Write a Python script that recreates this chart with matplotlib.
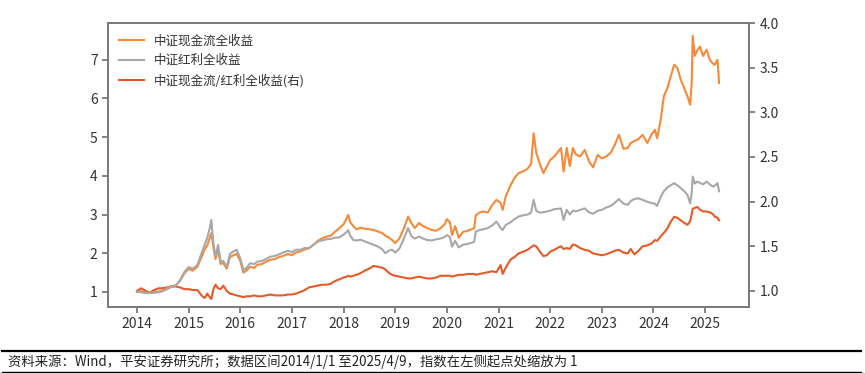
import matplotlib
matplotlib.use("Agg")
import matplotlib.pyplot as plt

plt.rcParams["font.family"] = ["Noto Sans CJK SC", "DejaVu Sans"]

# fractional year positions of the sampled points
YEARS = [
    2014.00, 2014.08, 2014.17, 2014.25, 2014.33, 2014.42, 2014.50, 2014.58, 2014.67, 2014.75, 2014.83, 2014.92,
    2015.00, 2015.08, 2015.17, 2015.25, 2015.31, 2015.36, 2015.41, 2015.44, 2015.48, 2015.52, 2015.57, 2015.62,
    2015.67, 2015.74, 2015.80, 2015.87, 2015.93,
    2016.00, 2016.06, 2016.12, 2016.19, 2016.27, 2016.33, 2016.42, 2016.50, 2016.58, 2016.67, 2016.75, 2016.83, 2016.92,
    2017.00, 2017.08, 2017.17, 2017.25, 2017.33, 2017.42, 2017.50, 2017.58, 2017.67, 2017.75, 2017.83, 2017.92,
    2018.00, 2018.06, 2018.09, 2018.13, 2018.19, 2018.25, 2018.33, 2018.42, 2018.50, 2018.58, 2018.67, 2018.75,
    2018.81, 2018.88, 2018.94,
    2019.00, 2019.08, 2019.17, 2019.25, 2019.31, 2019.38, 2019.46, 2019.54, 2019.62, 2019.71, 2019.79, 2019.88, 2019.96,
    2020.00, 2020.06, 2020.10, 2020.16, 2020.23, 2020.31, 2020.40, 2020.48, 2020.53, 2020.56, 2020.63, 2020.71,
    2020.79, 2020.88, 2020.96,
    2021.04, 2021.08, 2021.14, 2021.23, 2021.31, 2021.39, 2021.48, 2021.56, 2021.63, 2021.68, 2021.73, 2021.80,
    2021.87, 2021.94,
    2022.00, 2022.08, 2022.17, 2022.21, 2022.26, 2022.32, 2022.38, 2022.44, 2022.50, 2022.58, 2022.67, 2022.75,
    2022.83, 2022.92,
    2023.00, 2023.08, 2023.17, 2023.25, 2023.33, 2023.42, 2023.50, 2023.56, 2023.63, 2023.71, 2023.79, 2023.88, 2023.96,
    2024.03, 2024.07, 2024.14, 2024.20, 2024.27, 2024.33, 2024.40, 2024.46, 2024.53, 2024.60, 2024.66, 2024.71,
    2024.74, 2024.76, 2024.80, 2024.85, 2024.90, 2024.96,
    2025.03, 2025.09, 2025.15, 2025.19, 2025.24, 2025.27,
]

# 中证现金流全收益 (left axis)
CASHFLOW = [
    1.00, 1.02, 0.98, 0.98, 0.99, 1.01, 1.04, 1.10, 1.15, 1.17, 1.28, 1.48,
    1.60, 1.55, 1.65, 1.90, 2.10, 2.20, 2.40, 2.52, 2.15, 1.85, 2.10, 1.72,
    1.75, 1.60, 1.90, 1.95, 1.98,
    1.80, 1.50, 1.55, 1.65, 1.62, 1.70, 1.72, 1.78, 1.83, 1.85, 1.90, 1.93, 1.98,
    1.95, 2.02, 2.05, 2.10, 2.13, 2.22, 2.32, 2.38, 2.43, 2.45, 2.55, 2.65,
    2.75, 2.90, 2.99, 2.80, 2.70, 2.62, 2.66, 2.63, 2.62, 2.60, 2.56, 2.52,
    2.45, 2.40, 2.34,
    2.26, 2.38, 2.65, 2.95, 2.78, 2.65, 2.78, 2.70, 2.65, 2.60, 2.58, 2.65, 2.75,
    2.88, 2.80, 2.47, 2.70, 2.40, 2.55, 2.58, 2.62, 2.65, 2.98, 3.05, 3.08,
    3.05, 3.25, 3.38,
    3.30, 3.12, 3.47, 3.75, 3.95, 4.07, 4.12, 4.18, 4.30, 5.10, 4.60, 4.30,
    4.07, 4.25,
    4.41, 4.50, 4.65, 4.72, 4.11, 4.72, 4.25, 4.72, 4.55, 4.50, 4.67, 4.38,
    4.22, 4.54,
    4.45, 4.50, 4.59, 4.80, 5.06, 4.70, 4.72, 4.85, 4.90, 4.95, 5.06, 4.85, 5.06,
    5.19, 4.97, 5.45, 6.05, 6.27, 6.55, 6.87, 6.80, 6.48, 6.25, 6.05, 5.84,
    6.40, 7.62, 7.10, 7.25, 7.34, 7.10,
    7.26, 7.00, 6.90, 6.87, 7.00, 6.40,
]

# 中证红利全收益 (left axis)
DIVIDEND = [
    1.00, 0.99, 0.97, 0.97, 0.98, 0.99, 1.02, 1.07, 1.13, 1.16, 1.30, 1.52,
    1.64, 1.60, 1.70, 2.00, 2.22, 2.39, 2.65, 2.86, 2.26, 1.91, 2.22, 1.78,
    1.80, 1.65, 1.98, 2.05, 2.09,
    1.87, 1.57, 1.62, 1.74, 1.72, 1.78, 1.80, 1.85, 1.91, 1.93, 1.97, 2.02, 2.06,
    2.03, 2.09, 2.09, 2.14, 2.13, 2.22, 2.30, 2.33, 2.36, 2.37, 2.40, 2.41,
    2.48, 2.55, 2.60, 2.45, 2.34, 2.33, 2.35, 2.30, 2.26, 2.22, 2.17, 2.10,
    2.00, 2.07, 2.09,
    2.02, 2.12, 2.38, 2.65, 2.45, 2.38, 2.43, 2.38, 2.34, 2.33, 2.36, 2.38, 2.42,
    2.47, 2.42, 2.17, 2.32, 2.15, 2.22, 2.24, 2.27, 2.30, 2.56, 2.60, 2.62,
    2.65, 2.72, 2.82,
    2.65, 2.60, 2.73, 2.80, 2.88, 2.95, 2.98, 3.00, 3.05, 3.38, 3.10, 3.05,
    3.06, 3.08,
    3.10, 3.14, 3.15, 3.16, 2.86, 3.12, 3.00, 3.10, 3.08, 3.12, 3.16, 3.06,
    3.02, 3.10,
    3.12, 3.18, 3.22, 3.30, 3.40, 3.28, 3.25, 3.35, 3.40, 3.42, 3.38, 3.33, 3.30,
    3.28, 3.22, 3.45, 3.60, 3.70, 3.75, 3.81, 3.76, 3.68, 3.60, 3.50, 3.29,
    3.55, 3.98, 3.80, 3.85, 3.82, 3.78,
    3.85, 3.78, 3.72, 3.75, 3.81, 3.60,
]

# 中证现金流/红利全收益 (right axis)
RATIO = [
    1.00, 1.03, 1.00, 0.98, 1.01, 1.03, 1.03, 1.04, 1.05, 1.05, 1.04, 1.02,
    1.02, 1.01, 1.01, 0.95, 0.92, 0.97, 0.93, 0.91, 1.02, 1.07, 1.03, 1.02,
    1.06, 1.00, 0.97, 0.96, 0.95,
    0.94, 0.93, 0.94, 0.94, 0.95, 0.94, 0.94, 0.95, 0.96, 0.95, 0.95, 0.95, 0.96,
    0.96, 0.97, 0.99, 1.01, 1.04, 1.05, 1.06, 1.07, 1.07, 1.08, 1.11, 1.13,
    1.15, 1.16, 1.17, 1.16, 1.17, 1.18, 1.20, 1.23, 1.25, 1.28, 1.27, 1.26,
    1.24, 1.20, 1.18,
    1.17, 1.16, 1.15, 1.14, 1.14, 1.15, 1.16, 1.15, 1.14, 1.14, 1.15, 1.17, 1.17,
    1.17, 1.17, 1.16, 1.17, 1.18, 1.18, 1.19, 1.19, 1.19, 1.18, 1.19, 1.20,
    1.21, 1.22, 1.21,
    1.29, 1.19, 1.26, 1.35, 1.38, 1.42, 1.44, 1.46, 1.49, 1.51, 1.50, 1.44,
    1.39, 1.40,
    1.44, 1.46, 1.49, 1.50, 1.47, 1.48, 1.47, 1.52, 1.51, 1.48, 1.46, 1.45,
    1.42, 1.41,
    1.40, 1.41, 1.43, 1.45, 1.46, 1.43, 1.42, 1.47, 1.41, 1.45, 1.50, 1.51, 1.53,
    1.57, 1.56, 1.61, 1.65, 1.70, 1.77, 1.83, 1.82, 1.79, 1.76, 1.74, 1.78,
    1.86, 1.92, 1.93, 1.94, 1.91, 1.89,
    1.89, 1.88, 1.86, 1.83, 1.82, 1.79,
]

YEAR_TICKS = list(range(2014, 2026))
LEFT_TICKS = [1, 2, 3, 4, 5, 6, 7]
RIGHT_TICKS = [1.0, 1.5, 2.0, 2.5, 3.0, 3.5, 4.0]

C_CASH = "#F7893A"
C_DIV = "#A8A8A8"
C_RATIO = "#E65A2A"
SPINE = "#7A7A7A"
TXT = "#333333"

fig = plt.figure(figsize=(8.65, 3.73), dpi=100)
ax = fig.add_axes([0.1249, 0.1769, 0.7410, 0.7614])
ax2 = ax.twinx()

l1, = ax.plot(YEARS, CASHFLOW, color=C_CASH, lw=1.5, label="中证现金流全收益")
l2, = ax.plot(YEARS, DIVIDEND, color=C_DIV, lw=1.5, label="中证红利全收益")
l3, = ax2.plot(YEARS, RATIO, color=C_RATIO, lw=1.5, label="中证现金流/红利全收益(右)")
ax.set_zorder(ax2.get_zorder() + 1)
ax.patch.set_visible(False)

ax.set_xlim(2013.44, 2025.85)
ax.set_ylim(0.61, 7.95)
ax2.set_ylim(0.82, 4.0)
ax.set_xticks(YEAR_TICKS)
ax.set_xticklabels([str(y) for y in YEAR_TICKS])
ax.set_yticks(LEFT_TICKS)
ax2.set_yticks(RIGHT_TICKS)
ax2.set_yticklabels([f"{v:.1f}" for v in RIGHT_TICKS])

for a in (ax, ax2):
    for s in a.spines.values():
        s.set_color(SPINE)
        s.set_linewidth(1.3)
    a.tick_params(colors=SPINE, labelcolor=TXT, labelsize=10, length=4, width=1.3)

ax.legend(handles=[l1, l2, l3], loc="upper left", frameon=False, fontsize=9,
          handlelength=2.0, borderaxespad=0.5, labelspacing=0.55, labelcolor=TXT)

# footer rules and source note
fig.add_artist(plt.Line2D([0.002, 0.995], [0.0603, 0.0603], color="black", lw=1.6,
                          transform=fig.transFigure))
fig.add_artist(plt.Line2D([0.002, 0.995], [0.004, 0.004], color="black", lw=1.0,
                          transform=fig.transFigure))
fig.text(0.009, 0.0295, "资料来源：Wind，平安证券研究所；数据区间2014/1/1 至2025/4/9，指数在左侧起点处缩放为 1",
         fontsize=9.6, color="#222222", va="center", ha="left")

fig.savefig("out.png", dpi=100)
